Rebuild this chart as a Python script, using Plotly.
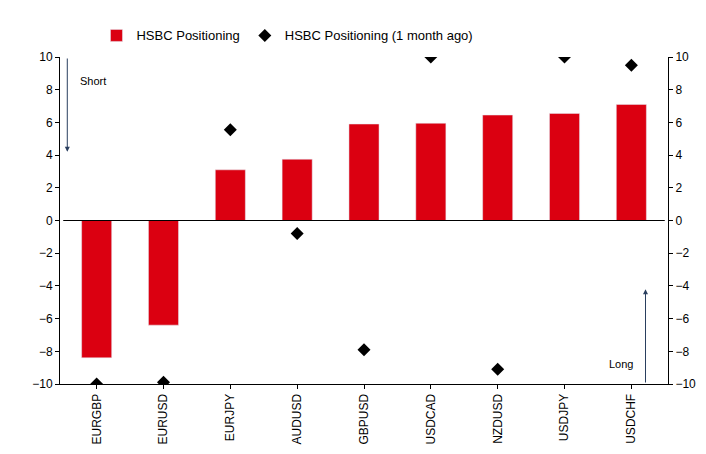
import plotly.graph_objs as go

pairs = ["EURGBP", "EURUSD", "EURJPY", "AUDUSD", "GBPUSD", "USDCAD", "NZDUSD", "USDJPY", "USDCHF"]
positioning = [-8.4, -6.4, 3.1, 3.75, 5.9, 5.95, 6.45, 6.55, 7.1]
month_ago = [-10, -9.9, 5.55, -0.8, -7.9, 10, -9.1, 10, 9.5]
ticks = list(range(-10, 11, 2))

fig = go.Figure()
fig.add_trace(go.Bar(x=pairs, y=positioning, name="HSBC Positioning",
                     marker_color="#DB0011", width=0.45))
fig.add_trace(go.Scatter(x=pairs, y=month_ago, name="HSBC Positioning (1 month ago)",
                         mode="markers", marker=dict(symbol="diamond", size=10, color="black")))
# invisible trace to get right axis
fig.add_trace(go.Scatter(x=pairs, y=month_ago, yaxis="y2", mode="markers",
                         marker=dict(opacity=0), showlegend=False, hoverinfo="skip"))

yax = dict(range=[-10, 10], tickvals=ticks, showline=True, linecolor="black",
           ticks="outside", ticklen=4, tickcolor="black", showgrid=False,
           zeroline=False, tickfont=dict(size=12, color="black"))
fig.update_layout(
    width=706, height=454,
    margin=dict(l=52, r=46, t=47, b=78),
    plot_bgcolor="white", paper_bgcolor="white",
    font=dict(family="Liberation Sans, Arial", size=12, color="black"),
    xaxis=dict(showline=True, linecolor="black", tickangle=-90, showgrid=False,
               ticks="outside", tickcolor="black", ticklen=4, tickfont=dict(size=12)),
    yaxis=yax,
    yaxis2=dict(yax, overlaying="y", side="right"),
    legend=dict(orientation="h", x=0.06, y=1.02, xanchor="left", yanchor="bottom",
                font=dict(size=13), itemwidth=30),
    shapes=[dict(type="line", xref="x", yref="y", x0=-0.5, x1=8.5, y0=0, y1=0,
                 line=dict(color="black", width=1))],
    annotations=[
        dict(xref="x domain", yref="y", x=0.012, y=4.2, ax=0.012, ay=10,
             axref="x domain", ayref="y",
             showarrow=True, arrowhead=2, arrowwidth=1, text=""),
        dict(xref="paper", yref="paper", x=0.03, y=0.95, text="Short", showarrow=False,
             xanchor="left", font=dict(size=11)),
        dict(xref="x domain", yref="y", x=0.963, y=-4.2, ax=0.963, ay=-10,
             axref="x domain", ayref="y",
             showarrow=True, arrowhead=2, arrowwidth=1, text=""),
        dict(xref="paper", yref="y", x=0.945, y=-8.8, text="Long", showarrow=False,
             xanchor="right", font=dict(size=11)),
    ],
)
fig.write_html("out.html")
